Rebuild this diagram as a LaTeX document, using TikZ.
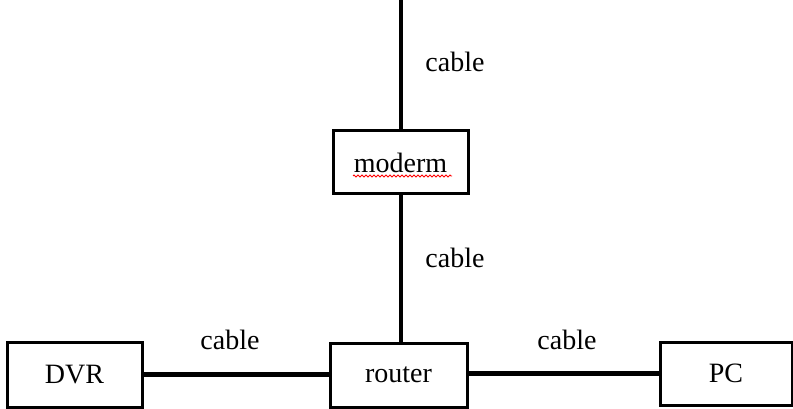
\documentclass[tikz,border=0pt]{standalone}
\usepackage{fontspec}
\setmainfont{Liberation Serif}
\usetikzlibrary{decorations.pathmorphing}
\begin{document}
\begin{tikzpicture}[x=1pt,y=-1pt,
  devbox/.style={draw,line width=3pt,inner sep=0pt,font=\fontsize{28}{30}\selectfont},
  wire/.style={line width=4.5pt},
  lbl/.style={font=\fontsize{28}{30}\selectfont,inner sep=0pt}]
\useasboundingbox (0,0) rectangle (793,409);
\node[devbox,minimum width=135pt,minimum height=63pt] (modem) at (400.5,162.5) {moderm};
\node[devbox,minimum width=135pt,minimum height=65pt] (dvr) at (74.5,374.5) {DVR};
\node[devbox,minimum width=137pt,minimum height=64pt] (router) at (398.5,375) {router};
\node[devbox,minimum width=132pt,minimum height=63pt] (pc) at (726,373.5) {PC};
\coordinate (top) at (401,0);
\draw[wire] (top) -- (top |- modem.north);
\draw[wire] (top |- modem.south) -- (top |- router.north);
\draw[wire] (dvr.east) -- (dvr.east -| router.west);
\draw[wire] (router.east |- pc.west) -- (pc.west);
\draw[red,line width=0.8pt,decorate,decoration={zigzag,segment length=4pt,amplitude=1pt}] (353,176) -- (452,176);
\node[lbl] (l1) at (455,62) {cable};
\node[lbl] (l2) at (455,258) {cable};
\node[lbl] (l3) at (230,340) {cable};
\node[lbl] (l4) at (567,340) {cable};
\end{tikzpicture}
\end{document}
